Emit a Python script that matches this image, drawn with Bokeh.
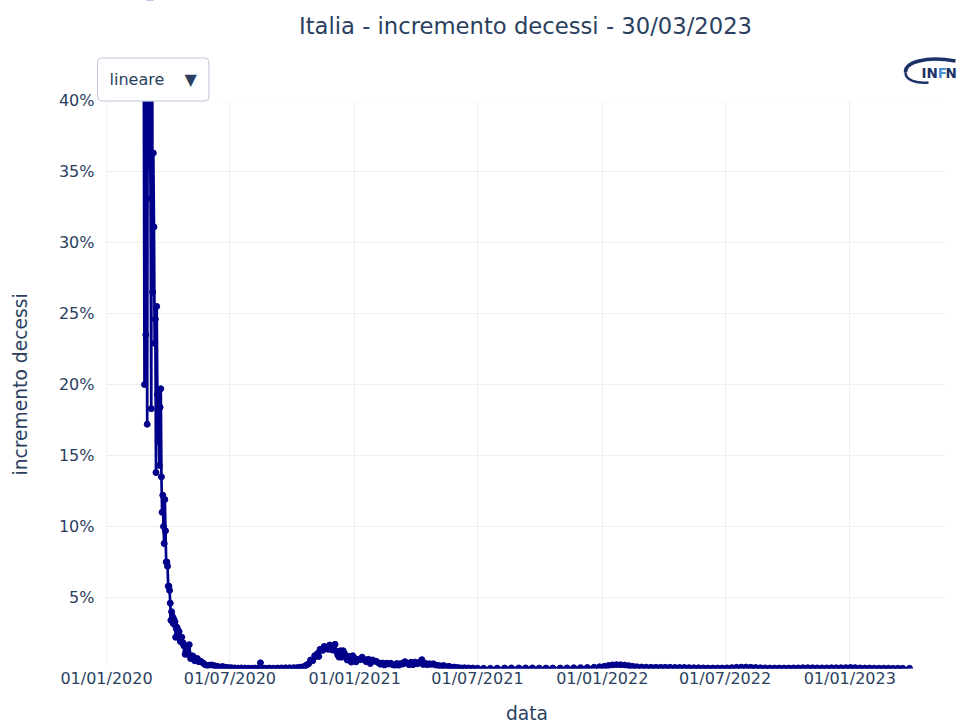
import pandas as pd
from bokeh.plotting import figure
from bokeh.models import (Label, FixedTicker, PrintfTickFormatter, DatetimeTickFormatter,
                          Range1d, ColumnDataSource, BoxAnnotation, Title)
from bokeh.embed import file_html
from bokeh.resources import INLINE

# ---------------- data (percent daily increase of deaths) ----------------
dates = [
    "2020-02-25", "2020-02-26", "2020-02-27", "2020-02-28", "2020-02-29", "2020-03-01", "2020-03-02",
    "2020-03-03", "2020-03-04", "2020-03-05", "2020-03-06", "2020-03-07", "2020-03-08", "2020-03-09",
    "2020-03-10", "2020-03-11", "2020-03-12", "2020-03-13", "2020-03-14", "2020-03-15", "2020-03-16",
    "2020-03-17", "2020-03-18", "2020-03-19", "2020-03-20", "2020-03-21", "2020-03-22", "2020-03-23",
    "2020-03-24", "2020-03-25", "2020-03-26", "2020-03-27", "2020-03-28", "2020-03-29", "2020-03-30",
    "2020-03-31", "2020-04-01", "2020-04-02", "2020-04-03", "2020-04-04", "2020-04-05", "2020-04-06",
    "2020-04-07", "2020-04-08", "2020-04-09", "2020-04-10", "2020-04-11", "2020-04-12", "2020-04-13",
    "2020-04-14", "2020-04-15", "2020-04-16", "2020-04-17", "2020-04-18", "2020-04-19", "2020-04-20",
    "2020-04-21", "2020-04-22", "2020-04-23", "2020-04-24", "2020-04-25", "2020-04-26", "2020-04-27",
    "2020-04-28", "2020-04-29", "2020-04-30",
    "2020-05-02", "2020-05-04", "2020-05-06", "2020-05-08", "2020-05-10", "2020-05-12", "2020-05-14",
    "2020-05-16", "2020-05-19", "2020-05-22", "2020-05-25", "2020-05-28", "2020-05-31", "2020-06-04",
    "2020-06-08", "2020-06-12", "2020-06-16", "2020-06-20", "2020-06-24", "2020-06-28", "2020-07-03",
    "2020-07-08", "2020-07-13", "2020-07-18", "2020-07-23", "2020-07-28", "2020-08-02", "2020-08-07",
    "2020-08-12", "2020-08-15", "2020-08-16", "2020-08-22", "2020-08-28", "2020-09-03", "2020-09-09",
    "2020-09-15", "2020-09-21", "2020-09-27", "2020-10-03", "2020-10-08", "2020-10-12", "2020-10-16",
    "2020-10-19", "2020-10-22", "2020-10-25", "2020-10-28", "2020-10-31", "2020-11-03", "2020-11-05",
    "2020-11-07", "2020-11-09", "2020-11-11", "2020-11-13", "2020-11-15", "2020-11-17", "2020-11-19",
    "2020-11-21", "2020-11-23", "2020-11-25", "2020-11-27", "2020-11-29", "2020-12-01", "2020-12-03",
    "2020-12-05", "2020-12-07", "2020-12-09", "2020-12-11", "2020-12-13", "2020-12-15", "2020-12-17",
    "2020-12-19", "2020-12-21", "2020-12-23", "2020-12-25", "2020-12-27", "2020-12-29", "2020-12-31",
    "2021-01-03", "2021-01-06", "2021-01-09", "2021-01-12", "2021-01-15", "2021-01-18", "2021-01-21",
    "2021-01-24", "2021-01-27", "2021-01-30", "2021-02-02", "2021-02-05", "2021-02-08", "2021-02-11",
    "2021-02-14", "2021-02-17", "2021-02-20", "2021-02-23", "2021-02-26", "2021-03-01", "2021-03-04",
    "2021-03-07", "2021-03-10", "2021-03-13", "2021-03-16", "2021-03-19", "2021-03-22", "2021-03-25",
    "2021-03-28", "2021-03-31", "2021-04-03", "2021-04-06", "2021-04-08", "2021-04-10", "2021-04-12",
    "2021-04-15", "2021-04-18", "2021-04-21", "2021-04-24", "2021-04-27", "2021-04-30", "2021-05-04",
    "2021-05-08", "2021-05-12", "2021-05-16", "2021-05-20", "2021-05-24", "2021-05-28", "2021-06-02",
    "2021-06-07", "2021-06-12", "2021-06-18", "2021-06-24", "2021-07-01", "2021-07-10", "2021-07-20",
    "2021-07-30", "2021-08-10", "2021-08-20", "2021-08-31", "2021-09-10", "2021-09-20", "2021-09-30",
    "2021-10-10", "2021-10-20", "2021-10-31", "2021-11-10", "2021-11-20", "2021-11-30", "2021-12-10",
    "2021-12-20", "2021-12-28", "2022-01-04", "2022-01-10", "2022-01-16", "2022-01-22", "2022-01-28",
    "2022-02-03", "2022-02-09", "2022-02-15", "2022-02-21", "2022-02-28", "2022-03-07", "2022-03-14",
    "2022-03-21", "2022-03-28", "2022-04-04", "2022-04-11", "2022-04-18", "2022-04-25", "2022-05-02",
    "2022-05-09", "2022-05-16", "2022-05-23", "2022-05-30", "2022-06-06", "2022-06-13", "2022-06-20",
    "2022-06-27", "2022-07-04", "2022-07-11", "2022-07-18", "2022-07-25", "2022-08-01", "2022-08-08",
    "2022-08-15", "2022-08-22", "2022-08-29", "2022-09-05", "2022-09-12", "2022-09-19", "2022-09-26",
    "2022-10-03", "2022-10-10", "2022-10-17", "2022-10-24", "2022-10-31", "2022-11-07", "2022-11-14",
    "2022-11-21", "2022-11-28", "2022-12-05", "2022-12-12", "2022-12-19", "2022-12-26", "2023-01-02",
    "2023-01-09", "2023-01-16", "2023-01-23", "2023-01-30", "2023-02-06", "2023-02-13", "2023-02-20",
    "2023-02-27", "2023-03-06", "2023-03-13", "2023-03-20", "2023-03-30",
]
increase_pct = [
    42.9, 20.0, 41.7, 23.5, 38.1, 17.2, 52.9,
    51.9, 35.4, 38.3, 33.1, 18.3, 57.1, 26.5,
    36.3, 31.1, 22.9, 24.6, 13.8, 25.5, 19.3,
    16.0, 19.0, 14.3, 18.4, 19.7, 13.5, 11.0,
    12.2, 10.0, 8.8, 11.9, 9.7, 7.5, 7.5,
    7.2, 5.8, 5.8, 5.5, 4.6, 3.4, 4.0,
    3.7, 3.2, 3.5, 3.1, 3.3, 2.2, 2.8,
    2.9, 2.7, 2.4, 2.6, 2.1, 1.9, 1.9,
    2.2, 1.8, 1.8, 1.6, 1.6, 1.0, 1.25,
    1.4, 1.2, 1.0,
    1.68, 0.70, 0.90, 0.85, 0.55, 0.60, 0.70,
    0.48, 0.50, 0.40, 0.28, 0.22, 0.23, 0.25,
    0.20, 0.16, 0.10, 0.14, 0.09, 0.07, 0.06,
    0.04, 0.03, 0.04, 0.03, 0.02, 0.02, 0.03,
    0.02, 0.40, 0.03, 0.02, 0.03, 0.02, 0.03,
    0.04, 0.05, 0.05, 0.06, 0.06, 0.09, 0.11,
    0.14, 0.25, 0.33, 0.60, 0.55, 0.90, 0.85,
    1.05, 0.85, 1.35, 1.30, 1.28, 1.55, 1.50,
    1.40, 1.35, 1.65, 1.40, 1.30, 1.55, 1.70,
    1.20, 0.95, 0.80, 1.25, 0.80, 1.25, 1.05,
    0.82, 0.60, 0.85, 0.70, 0.45, 0.90, 0.75,
    0.47, 0.65, 0.62, 0.80, 0.62, 0.48, 0.65,
    0.35, 0.60, 0.52, 0.50, 0.40, 0.30, 0.38,
    0.24, 0.37, 0.32, 0.37, 0.27, 0.22, 0.35,
    0.22, 0.35, 0.31, 0.48, 0.38, 0.27, 0.44,
    0.27, 0.45, 0.33, 0.38, 0.50, 0.62, 0.29,
    0.37, 0.26, 0.33, 0.30, 0.33, 0.24, 0.22,
    0.18, 0.21, 0.12, 0.15, 0.09, 0.10, 0.07,
    0.04, 0.05, 0.04, 0.03, 0.02, 0.01, 0.01,
    0.02, 0.03, 0.04, 0.04, 0.04, 0.04, 0.03,
    0.03, 0.03, 0.03, 0.04, 0.05, 0.06, 0.07,
    0.09, 0.12, 0.15, 0.21, 0.25, 0.27, 0.26,
    0.24, 0.20, 0.15, 0.12, 0.10, 0.09, 0.08,
    0.08, 0.08, 0.08, 0.08, 0.07, 0.07, 0.07,
    0.06, 0.05, 0.05, 0.04, 0.03, 0.03, 0.03,
    0.03, 0.04, 0.06, 0.08, 0.09, 0.10, 0.08,
    0.07, 0.05, 0.04, 0.03, 0.03, 0.03, 0.03,
    0.03, 0.04, 0.04, 0.05, 0.05, 0.05, 0.04,
    0.04, 0.04, 0.05, 0.05, 0.05, 0.06, 0.07,
    0.06, 0.04, 0.03, 0.03, 0.02, 0.02, 0.02,
    0.02, 0.01, 0.01, 0.01, 0.01,
]
x_tick_dates = ["2020-01-01", "2020-07-01", "2021-01-01", "2021-07-01",
                "2022-01-01", "2022-07-01", "2023-01-01"]
y_tick_values = [5, 10, 15, 20, 25, 30, 35, 40]
y_max = 40
title_text = "Italia - incremento decessi - 30/03/2023"
x_label = "data"
y_label = "incremento decessi"
menu_text = "lineare\u00a0\u00a0\u00a0\u00a0\u25bc"

# ---------------- style / geometry ----------------
TXT = "#2a3f5f"
GRID = "#ebf0f8"
FONT = "DejaVu Sans"
LINE = "#00008b"
LOGO = "#1d3266"
LOGO_F = "#4a8fd0"

W, H = 958, 726
BL, BB = 95, 58                 # frame: page x 95..958, page y 0..668
FW, FH = W - BL, H - BB
AXIS_L = 106                    # page x of 01/01/2020 (left of data area)
AXIS_R = 945                    # right end of the data area
DATA_TOP = 100                  # page y of 40 %
PX_PER_DAY = 0.6782
PX_PER_PCT = (FH - DATA_TOP) / y_max

DAY_MS = 86400000.0
ms = lambda t: pd.Timestamp(t).value / 1e6
T0 = ms(x_tick_dates[0])
XS = T0 - (AXIS_L - BL) / PX_PER_DAY * DAY_MS
XE = XS + FW / PX_PER_DAY * DAY_MS
YTOP = y_max + DATA_TOP / PX_PER_PCT


def x_at(px):
    return XS + (px - BL) / PX_PER_DAY * DAY_MS


def y_at(py):
    return YTOP - py / PX_PER_PCT


p = figure(frame_width=FW, frame_height=FH, output_backend="svg", toolbar_location=None,
           x_axis_type="datetime", x_range=Range1d(XS, XE), y_range=Range1d(0, YTOP),
           title_location=None,
           min_border_left=BL, min_border_right=0, min_border_top=0, min_border_bottom=BB,
           background_fill_color="white", border_fill_color="white",
           styles={"overflow": "hidden"},
           stylesheets=[":host { overflow: hidden; } svg { overflow: hidden; }"])
p.outline_line_color = None

src = ColumnDataSource(dict(x=pd.to_datetime(dates), y=increase_pct))
p.line("x", "y", source=src, line_color=LINE, line_width=2.7)
p.scatter("x", "y", source=src, size=6, fill_color=LINE, line_color=LINE)

xa, ya = p.xaxis[0], p.yaxis[0]
xa.ticker = FixedTicker(ticks=[ms(d) for d in x_tick_dates])
xa.formatter = DatetimeTickFormatter(days="%d/%m/%Y", months="%d/%m/%Y", years="%d/%m/%Y")
ya.ticker = FixedTicker(ticks=y_tick_values)
ya.formatter = PrintfTickFormatter(format="%d%%")
for ax in (xa, ya):
    ax.axis_line_color = None
    ax.major_tick_line_color = None
    ax.minor_tick_line_color = None
    ax.major_tick_out = 0
    ax.major_tick_in = 0
    ax.minor_tick_out = 0
    ax.major_label_text_font = FONT
    ax.major_label_text_font_size = "16px"
    ax.major_label_text_color = TXT
    ax.axis_label_text_font = FONT
    ax.axis_label_text_font_size = "18.7px"
    ax.axis_label_text_font_style = "normal"
    ax.axis_label_text_color = TXT
xa.axis_label = x_label
xa.major_label_standoff = 0
xa.axis_label_standoff = 12
ya.major_label_standoff = 1

# y-axis title, centred on the 0-40 % data area (page y 100..668) rather than the whole frame;
# the blank second line keeps it away from the tick labels
p.add_layout(Title(text=y_label + "\n\u00a0", align="left", offset=193,
                   text_font=FONT, text_font_size="18.7px", text_font_style="normal",
                   text_color=TXT, standoff=8), "left")

p.xgrid.grid_line_color = GRID
p.ygrid.grid_line_color = GRID

# white margins around the 0-40 % data area (data above 40 % is off-scale)
for kw in (dict(left=XS, right=XE, bottom=y_max, top=YTOP + 30),
           dict(left=XS, right=x_at(AXIS_L - 1), bottom=0, top=YTOP + 30),
           dict(left=x_at(AXIS_R), right=XE, bottom=0, top=YTOP + 30)):
    p.add_layout(BoxAnnotation(fill_color="white", fill_alpha=1.0, line_color="white",
                               line_width=3, level="annotation", **kw))

# title
p.add_layout(Label(x=x_at(525), y=y_at(25), text=title_text, text_font=FONT,
                   text_font_size="22.7px", text_color=TXT, text_align="center",
                   text_baseline="middle", level="overlay"))
# dropdown menu button (box from page x 97)
p.add_layout(Label(x=x_at(97), y=y_at(79), text=menu_text, text_font=FONT,
                   text_font_size="16px", text_color=TXT, text_baseline="middle",
                   text_align="left", background_fill_color="white",
                   border_line_color="#bec8d9", border_line_width=1, padding=12,
                   border_radius=4, level="overlay"))
# INFN logo
p.bezier(x0=[x_at(955)], y0=[y_at(60.5)], x1=[x_at(905)], y1=[y_at(72)],
         cx0=[x_at(925)], cy0=[y_at(55)], cx1=[x_at(904)], cy1=[y_at(62)],
         line_color=LOGO, line_width=3.5, level="overlay")
p.bezier(x0=[x_at(905)], y0=[y_at(72)], x1=[x_at(928)], y1=[y_at(82)],
         cx0=[x_at(905)], cy0=[y_at(80)], cx1=[x_at(916)], cy1=[y_at(83)],
         line_color=LOGO, line_width=2.5, level="overlay")
for txt, xx, col in (("IN", 921, LOGO), ("F", 937.3, LOGO_F), ("N", 945.1, LOGO)):
    p.add_layout(Label(x=x_at(xx), y=y_at(72.5), text=txt, text_font=FONT,
                       text_font_size="13.5px", text_font_style="bold", text_color=col,
                       text_baseline="middle", text_align="left", level="overlay"))

open("out.html", "w").write(file_html(p, INLINE))
